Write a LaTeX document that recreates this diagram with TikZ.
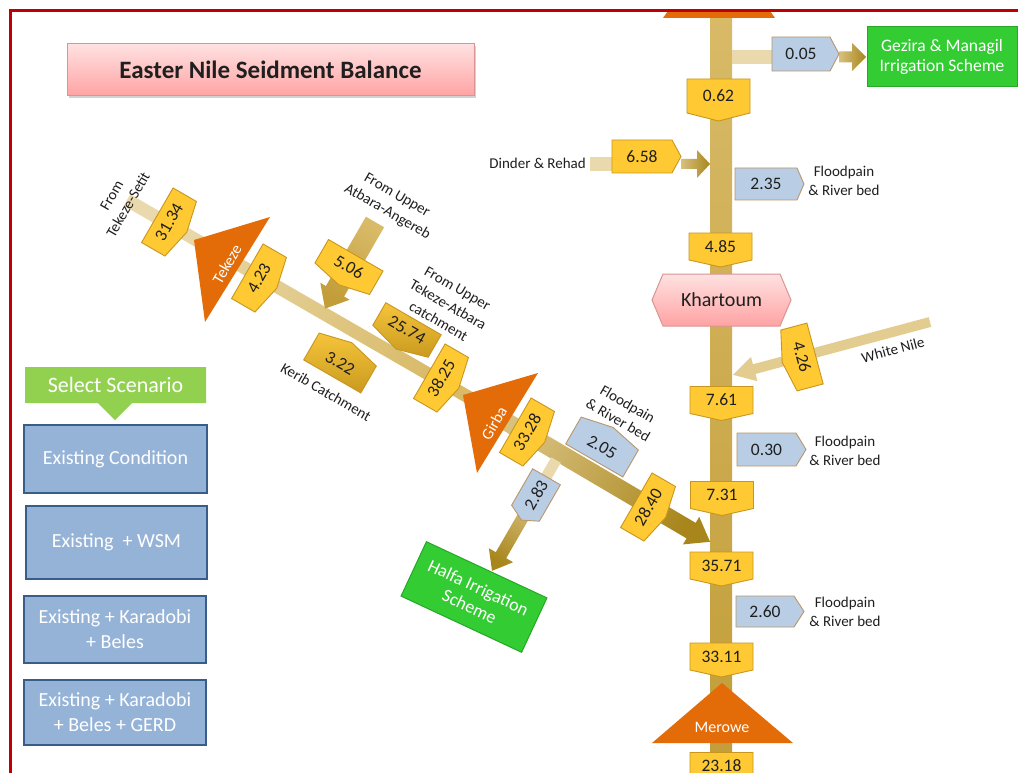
\documentclass[tikz,border=0pt]{standalone}
\usepackage{fontspec}
\setmainfont{Carlito}
\usetikzlibrary{shadows}
\definecolor{cYel}{HTML}{FFC933}
\definecolor{cYelD}{HTML}{C8961E}
\definecolor{cDarkT}{HTML}{F6C43A}
\definecolor{cDarkB}{HTML}{C99A20}
\definecolor{cBlu}{HTML}{B9CDE5}
\definecolor{cBluD}{HTML}{B8976A}
\definecolor{cOrg}{HTML}{E36C09}
\definecolor{cGrn}{HTML}{33CC33}
\definecolor{cGrnD}{HTML}{25A825}
\definecolor{cTanL}{HTML}{E9D9AC}
\definecolor{cTanW}{HTML}{E3CC8F}
\definecolor{cGoldA}{HTML}{D8C07E}
\definecolor{cGoldB}{HTML}{A8861C}
\definecolor{cRivT}{HTML}{D8BA68}
\definecolor{cRivB}{HTML}{C29D38}
\definecolor{cScen}{HTML}{95B3D7}
\definecolor{cScenD}{HTML}{385D8A}
\definecolor{cSel}{HTML}{92D050}
\definecolor{cFrame}{HTML}{C00000}
\definecolor{cPinkT}{HTML}{FFE1E1}
\definecolor{cPinkB}{HTML}{FFA3A3}
\definecolor{cPinkD}{HTML}{D99594}
\definecolor{cTxt}{HTML}{1F1F1F}
\tikzset{
 yelbox/.style={fill=cYel, draw=cYelD, line width=0.9pt},
 blubox/.style={fill=cBlu, draw=cBluD, line width=0.9pt},
 darkbox/.style={top color=cDarkT, bottom color=cDarkB, draw=cYelD, line width=0.9pt},
 lbl/.style={font=\fontsize{15}{19}\selectfont, text=cTxt, align=center, inner sep=0pt},
 tritxt/.style={font=\fontsize{16}{18}\selectfont, text=white, inner sep=0pt},
 scen/.style={fill=cScen, draw=cScenD, line width=1.8pt, text=white, font=\fontsize{20}{25}\selectfont, align=center},
 grnbox/.style={fill=cGrn, draw=cGrnD, line width=1pt, text=white, align=center, font=\fontsize{17.5}{20.5}\selectfont},
}
\pgfkeys{/pb/.cd,
  L/.store in=\pbL, H/.store in=\pbH, T/.store in=\pbT, fs/.store in=\pbfs,
  sty/.code={\tikzset{pbsty/.style={#1}}}}
% #1 keys, #2 name, #3 x, #4 y, #5 pointer direction, #6 text rotation, #7 text
\newcommand\pbox[7][]{%
 \begingroup
 \pgfkeys{/pb/.cd, L=13.5, H=31.5, T=7, fs=17.5, sty=yelbox, #1}%
 \begin{scope}[shift={(#3,#4)},rotate=#5]
  \path[pbsty] (-\pbL,-\pbH) -- (\pbL,-\pbH) -- ({\pbL+\pbT},0) -- (\pbL,\pbH) -- (-\pbL,\pbH) -- cycle;
 \end{scope}
 \node[rotate=#6, inner sep=0pt, text=cTxt, font=\fontsize{\pbfs}{\pbfs}\selectfont] (#2) at (#3,#4) {#7};
 \endgroup}
% tail colour, tip colour, x, y, dir, length, half shaft, half head, head length
\newcommand\flowarrow[9]{%
 \begin{scope}[shift={(#3,#4)},rotate=#5]
  \pgfmathsetmacro\shang{#5-90}%
  \path[bottom color=#1, top color=#2, shading angle=\shang] (0,-#7) -- ({#6-#9},-#7) -- ({#6-#9},-#8) -- (#6,0) -- ({#6-#9},#8) -- ({#6-#9},#7) -- (0,#7) -- cycle;
 \end{scope}}
\newcommand\flowbar[7]{%
 \begin{scope}[shift={(#3,#4)},rotate=#5]
  \pgfmathsetmacro\shang{#5-90}%
  \path[bottom color=#1, top color=#2, shading angle=\shang] (0,-#7) rectangle (#6,#7);
 \end{scope}}
\begin{document}
\begin{tikzpicture}[x=1pt,y=-1pt]
\useasboundingbox (0,0) rectangle (1018,773);
\fill[white] (0,0) rectangle (1018,773);
% main river
\path[top color=cRivT, bottom color=cRivB] (710,11) rectangle (732,773);
\path[fill=cOrg] (663,18) -- (775,18) -- (770,11) -- (668,11) -- cycle;
% Gezira branch
\flowbar{cTanL}{cTanL}{732}{57}{0}{40}{6.5}
\flowarrow{cGoldA}{cGoldB}{839}{57}{0}{27}{5.5}{14}{14}
% Dinder
\flowbar{cTanL}{cTanL}{590}{164}{0}{22}{6.5}
\flowarrow{cGoldA}{cGoldB}{681}{164}{0}{29}{5}{14}{13}
% White Nile
\flowarrow{cTanW}{cTanW}{930}{322}{-165}{204}{5}{12.5}{22}
% Atbara main line
\flowbar{cTanL}{cRivT}{127}{200}{-30}{407}{6.5}
\flowarrow{cGoldA}{cGoldB}{505}{421}{-30.5}{238}{9}{16}{22}
% Atbara-Angereb
\flowarrow{cRivT}{cRivB}{375}{222}{-120}{100}{10.5}{17}{20}
% Halfa
\flowbar{cTanL}{cTanL}{556}{460}{-120}{40}{5.5}
\flowarrow{cGoldA}{cGoldB}{536}{494.6}{-120}{88}{6}{14}{18}
% dams
\coordinate (tk1) at (270,217); \coordinate (tk2) at (194,240); \coordinate (tk3) at (205,322);
\fill[cOrg] (tk1) -- (tk2) -- (tk3) -- cycle;
\coordinate (gb1) at (538,373); \coordinate (gb2) at (463,395); \coordinate (gb3) at (477,473);
\fill[cOrg] (gb1) -- (gb2) -- (gb3) -- cycle;
\coordinate (mw1) at (722,683); \coordinate (mw2) at (652,743); \coordinate (mw3) at (793,743);
\fill[cOrg] (mw1) -- (mw2) -- (mw3) -- cycle;
\node[tritxt, rotate=60] (tekeze) at (227,264) {Tekeze};
\node[tritxt, rotate=60] (girba) at (494,423) {Girba};
\node[tritxt] (merowe) at (722,727) {Merowe};
% Khartoum
\path[top color=cPinkT, bottom color=cPinkB, draw=cPinkD, line width=1pt] (663,274) -- (780,274) -- (791,300) -- (780,326) -- (663,326) -- (652,300) -- cycle;
\node[font=\fontsize{20}{22}\selectfont, text=cTxt] (khartoum) at (721.5,300) {Khartoum};
% vertical boxes
\pbox[L=17, T=8]{v062}{718.5}{96}{-90}{0}{0.62}
\pbox{v485}{720.5}{246.5}{-90}{0}{4.85}
\pbox{v761}{721.5}{400}{-90}{0}{7.61}
\pbox{v731}{722}{495}{-90}{0}{7.31}
\pbox{v3571}{721.5}{565.5}{-90}{0}{35.71}
\pbox{v3311}{721.5}{656.5}{-90}{0}{33.11}
\pbox{v2318}{721.5}{766}{-90}{0}{23.18}
% horizontal boxes
\pbox[sty=blubox, L=29, H=17, T=9]{b005}{801}{54}{0}{0}{0.05}
\pbox[L=30, H=16.5, T=9]{y658}{642}{156.5}{0}{0}{6.58}
\pbox[sty=blubox, L=31, H=16, T=7]{b235}{766}{184}{0}{0}{2.35}
\pbox[sty=blubox, L=29.5, H=16.5, T=10]{b030}{766.5}{449.5}{0}{0}{0.30}
\pbox[sty=blubox, L=29, H=15.5, T=10]{b260}{765}{611.5}{0}{0}{2.60}
% rotated boxes
\pbox{y426}{802}{357}{-165}{-75}{4.26}
\pbox{y3134}{169}{222}{-30}{60}{31.34}
\pbox{y423}{259}{278}{-30}{60}{4.23}
\pbox{y3825}{441}{378}{-30}{60}{38.25}
\pbox{y3328}{527}{432}{-30}{60}{33.28}
\pbox{y2840}{648}{507}{-30}{60}{28.40}
\pbox{y506}{349}{267}{-120}{-30}{5.06}
\pbox[sty=darkbox, L=13, H=32, T=9]{y2574}{407}{330}{-120}{-30}{25.74}
\pbox[sty=darkbox, L=15.5, H=33, T=8]{y322}{340}{363}{60}{-30}{3.22}
\pbox[sty=blubox, L=15.5, H=33, T=7]{b205}{602}{447}{60}{-30}{2.05}
\pbox[sty=blubox, L=21, H=16, T=8]{b283}{536}{495}{-120}{60}{2.83}
% labels
\node[lbl, rotate=60] (lts) at (120,200) {From\\Tekeze-Setit};
\node[lbl, rotate=-30] (lau) at (392,204) {From Upper\\Atbara-Angereb};
\node[lbl, rotate=-30] (ltu) at (448,305) {From Upper\\Tekeze-Atbara\\catchment};
\node[lbl, rotate=-30] (lkc) at (326,392) {Kerib Catchment};
\node[lbl, anchor=east] (ldr) at (586,163) {Dinder \& Rehad};
\node[lbl, rotate=15] (lwn) at (893,350) {White Nile};
\node[lbl] (lf1) at (844,181) {Floodpain\\\& River bed};
\node[lbl] (lf2) at (845,451) {Floodpain\\\& River bed};
\node[lbl] (lf3) at (845,612) {Floodpain\\\& River bed};
\node[lbl, rotate=-30] (lf4) at (623,412) {Floodpain\\\& River bed};
% irrigation schemes
\node[grnbox, minimum width=150pt, minimum height=60pt] (gez) at (942,57) {Gezira \& Managil\\Irrigation Scheme};
\node[grnbox, rotate=-25, minimum width=133pt, minimum height=60pt, font=\fontsize{18}{21}\selectfont] (halfa) at (474,597) {Halfa Irrigation\\Scheme};
% title
\node[draw=cPinkD, line width=1pt, top color=cPinkT, bottom color=cPinkB, minimum width=407pt, minimum height=52pt, drop shadow={opacity=0.35, shadow xshift=1.5pt, shadow yshift=-2pt}, font=\fontsize{25}{28}\selectfont\bfseries, text=cTxt] (title) at (270.5,70) {Easter Nile Seidment Balance};
% scenarios
\path[fill=cSel] (25,367) -- (206,367) -- (206,403) -- (132,403) -- (115,420) -- (98,403) -- (25,403) -- cycle;
\node[text=white, font=\fontsize{22}{24}\selectfont] (sel) at (115.5,385) {Select Scenario};
\node[scen, minimum width=183pt, minimum height=68pt] (s1) at (115.5,459) {Existing Condition};
\node[scen, minimum width=181pt, minimum height=73pt] (s2) at (116.5,542.5) {Existing\ \ + WSM};
\node[scen, minimum width=182pt, minimum height=67pt] (s3) at (115,629.5) {Existing + Karadobi\\+ Beles};
\node[scen, minimum width=182pt, minimum height=65pt] (s4) at (115,712.5) {Existing + Karadobi\\+ Beles + GERD};
% frame
\draw[cFrame, line width=2.2pt] (10.5,773) -- (10.5,10.5) -- (1018,10.5);
\end{tikzpicture}
\end{document}
